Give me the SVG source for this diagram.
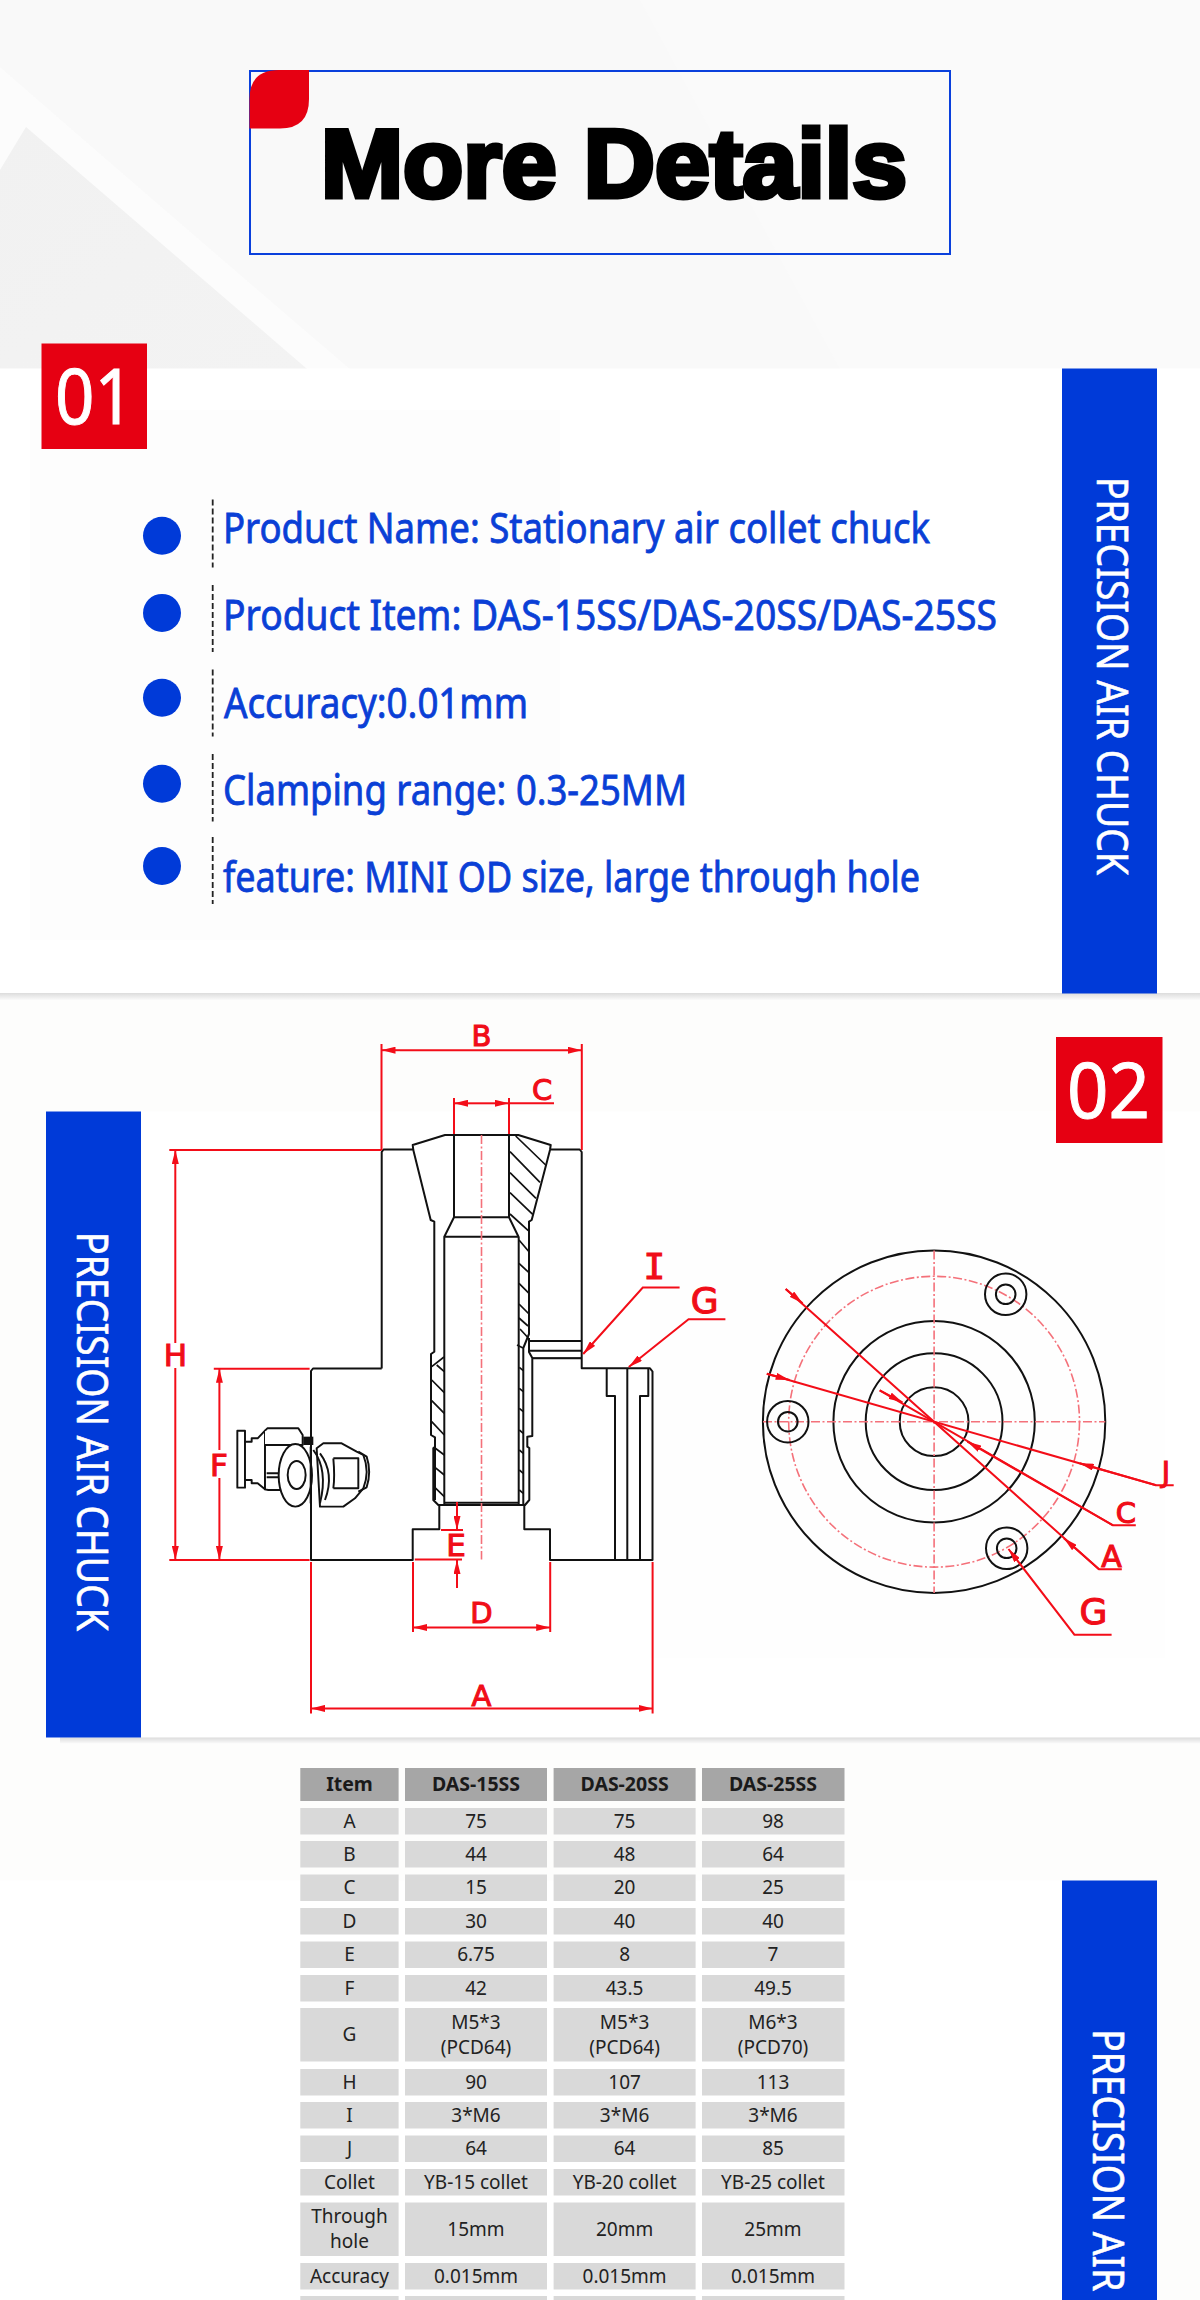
<svg xmlns="http://www.w3.org/2000/svg" width="1200" height="2300" viewBox="0 0 1200 2300">
<style>
.band{fill:#003ad8}
.bandtxt{font-family:"Noto Sans",sans-serif;font-size:44px;fill:#fff;stroke:#fff;stroke-width:.6}
.badge{fill:#e60012}
.badgetxt{font-family:"Noto Sans",sans-serif;font-size:76px;fill:#fff;stroke:#fff;stroke-width:1}
.li{font-family:"Noto Sans",sans-serif;font-size:41px;fill:#0a3fd6;stroke:#0a3fd6;stroke-width:.8}
.bullet{fill:#003ad8}
.dash{stroke:#222;stroke-width:1.8;stroke-dasharray:6 3;fill:none}
.k{fill:none;stroke:#111;stroke-width:2;stroke-linejoin:round}
.h{fill:none;stroke:#111;stroke-width:1.7}
.r{fill:none;stroke:#f30d18;stroke-width:2}
.cl{fill:none;stroke:#f4717a;stroke-width:1.6;stroke-dasharray:9 2.5 2 2.5}
.lab{font-family:"DejaVu Sans",sans-serif;fill:#f00d18;text-anchor:middle;stroke:#f00d18;stroke-width:1.1}
.hd{fill:#a6a6a6}
.rw{fill:#d9d9d9}
.t{font-family:"Noto Sans",sans-serif;font-size:19px;fill:#222;text-anchor:middle}
.th{font-family:"Noto Sans",sans-serif;font-size:19.5px;font-weight:700;fill:#1a1a1a;text-anchor:middle}
</style>
<defs>
<marker id="ar" markerUnits="userSpaceOnUse" markerWidth="14" markerHeight="7" refX="14" refY="3.5" orient="auto"><path d="M0 0L14 3.5L0 7Z" fill="#f30d18"/></marker>
<linearGradient id="sh" x1="0" y1="0" x2="0" y2="1"><stop offset="0" stop-color="#dcdcdc"/><stop offset="1" stop-color="#fafafa"/></linearGradient>
<linearGradient id="tri" x1="0" y1="0" x2="1" y2="1"><stop offset="0" stop-color="#f1f1f1"/><stop offset="1" stop-color="#f3f3f3"/></linearGradient>
</defs>

<g id="background">
<rect width="1200" height="2300" fill="#fdfdfc"/>
<rect width="1200" height="369" fill="#fafafa"/>
<path d="M0 67Q170 215 350 369H307L26 127L0 170V100Z" fill="#fcfcfc"/>
<path d="M26 127L307 369H0V170Z" fill="url(#tri)"/>
<path d="M0 0H640L840 369H1200V369H350Q170 215 0 67Z" fill="#f9f9f9"/>
<rect y="368.5" width="1200" height="625" fill="#fff"/>
<rect x="30" y="410" width="530" height="530" fill="#fdfdfd"/>
<rect y="993" width="1200" height="7" fill="url(#sh)"/>
<rect x="46" y="1111.5" width="1154" height="626" fill="#fff"/>
<rect x="650" y="1112" width="515" height="546" fill="#fefefe"/>
<rect x="60" y="1737.5" width="1140" height="6" fill="url(#sh)"/>
<rect y="1880.5" width="1062" height="420" fill="#fff"/>
</g>

<g id="title">
<rect x="250" y="71" width="700" height="183" fill="none" stroke="#0a40dc" stroke-width="2"/>
<path d="M249.5 128.5V99Q249.5 70 279 70H309V99Q309 128.5 280 128.5Z" class="badge"/>
<text x="321" y="197" font-family="'Liberation Sans',Arial,sans-serif" font-size="96" font-weight="700" fill="#000" stroke="#000" stroke-width="5" textLength="586" lengthAdjust="spacingAndGlyphs">More Details</text>
</g>

<g id="badge-01"><rect x="41.5" y="343.5" width="105.5" height="105.5" class="badge"/><text x="55" y="424" class="badgetxt" textLength="79" lengthAdjust="spacingAndGlyphs">01</text></g>

<g id="band-1"><rect x="1062" y="368.5" width="95" height="625" class="band"/><text transform="translate(1097 477) rotate(90)" class="bandtxt" textLength="398" lengthAdjust="spacingAndGlyphs">PRECISION AIR CHUCK</text></g>

<g id="spec-list">
<ellipse cx="162" cy="535.7" rx="19" ry="19" class="bullet"/>
<ellipse cx="162" cy="612.9" rx="19" ry="19" class="bullet"/>
<ellipse cx="162" cy="697.7" rx="19" ry="19" class="bullet"/>
<ellipse cx="162" cy="783.8" rx="19" ry="19" class="bullet"/>
<ellipse cx="162" cy="866" rx="19" ry="19" class="bullet"/>
<path class="dash" d="M212.7 499.5V567.5M212.7 585V652M212.7 669.5V736.5M212.7 754V821.5M212.7 837V904"/>
<text x="223" y="543" class="li" textLength="707" lengthAdjust="spacingAndGlyphs">Product Name: Stationary air collet chuck</text>
<text x="223" y="630" class="li" textLength="774" lengthAdjust="spacingAndGlyphs">Product Item: DAS-15SS/DAS-20SS/DAS-25SS</text>
<text x="224" y="717.5" class="li" textLength="304" lengthAdjust="spacingAndGlyphs">Accuracy:0.01mm</text>
<text x="223" y="805" class="li" textLength="464" lengthAdjust="spacingAndGlyphs">Clamping range: 0.3-25MM</text>
<text x="223" y="891.5" class="li" textLength="697" lengthAdjust="spacingAndGlyphs">feature: MINI OD size, large through hole</text>
</g>

<g id="badge-02"><rect x="1056" y="1037" width="106.5" height="106" class="badge"/><text x="1067" y="1118" class="badgetxt" textLength="83" lengthAdjust="spacingAndGlyphs">02</text></g>
<g id="band-2"><rect x="46" y="1111.5" width="95" height="626" class="band"/><text transform="translate(77 1232) rotate(90)" class="bandtxt" textLength="399" lengthAdjust="spacingAndGlyphs">PRECISION AIR CHUCK</text></g>

<g id="section-view">
<path class="k" d="M381.7 1368.5V1152L383.5 1149.5H413M550.7 1149.5H579.7L581.7 1152V1368.3H650L652.5 1371.5V1560H550V1529.3H524.3V1505M439.3 1505V1529.3H412.7V1560H311V1371L313 1368.5H381.7"/>
<path class="k" d="M413.3 1150L412.7 1145L445 1135H518.3L550.7 1145L550 1150L531.7 1220L529 1221.7V1334L523.3 1348V1505M413.3 1150L430.7 1220L434.3 1221.7V1351.7L431 1354V1435L435 1437.3V1446.7L433.3 1448.3V1500L438.3 1505H525L529.3 1500V1448L527.3 1446.7V1436.7L532.3 1436V1358L529 1352V1338"/>
<path class="k" d="M454 1135V1217.3H509V1135M454 1217.3L444.3 1236.7H518.5L509 1217.3M444.3 1236.7V1505M518.7 1236.7V1505M444.6 1502.7H518.7M435 1446.7V1500"/>
<path class="k" d="M529 1341H581.7M529 1350.7H581.7M532 1358.3H581.7M606.7 1368.3V1396H615V1560M627.3 1368.3V1560M648.3 1368.3V1396H640V1560"/>
<path d="M529 1341H581.7M532 1358.3H581.7" stroke="#111" stroke-width="1.6" fill="none"/>
<path class="h" d="M515.7 1136L545.7 1165M510 1151.7L540 1182.3M510 1172.7L536 1198.3M510 1192.7L532.7 1214.3M510 1214L528.3 1230.7M519 1240L529 1251.7M519 1263.3L529 1272.7M519 1283.3L529 1293.3M519 1304L529 1314M519 1318L528 1326M520 1329L528.3 1338M523 1348L517 1345"/>
<path class="h" d="M431.7 1366.7L444 1357M436.7 1365L444.3 1371.7M431.7 1380L444.3 1392.7M431.7 1400.7L444.3 1413.3M431.7 1421.7L444.3 1435M434 1447.3L444.3 1455M434 1466.7L444.3 1475M434 1486.7L444.3 1496.7"/>
<path class="h" d="M519.3 1367.3L523.3 1370.7M519.3 1388.3L523.3 1391.7M519.3 1408.3L523.3 1411.7M519.3 1430L523.3 1433.3M519.3 1450L523.3 1453.3M519.3 1470L523.3 1473.3M519.3 1490L523.3 1493.3"/>
<path class="cl" d="M481.5 1135V1559.6"/>
</g>

<g id="fitting" transform="translate(220 1400) scale(.3333)" fill="#fff" stroke="#111" stroke-width="5.8" stroke-linejoin="round">
<path d="M290 145L310 130H365L410 155L430 165Q450 215 430 265L405 295L370 320H300Z"/>
<path d="M280 150Q325 210 300 310M300 160Q345 220 315 300M340 175H415V265H340M340 175Q345 230 340 265M415 155L440 170Q455 215 440 262L415 275" fill="none"/>
<rect x="52" y="92" width="23" height="171"/>
<path d="M75 125H95V115H113L135 92V268L113 250H95V240H75Z"/>
<path d="M135 92L142 85H235L248 105V135H135M135 135V268L145 270H215"/>
<path d="M140 220H178M140 232H178" fill="none"/>
<rect x="250" y="110" width="30" height="25" fill="#111" stroke="none"/>
<ellipse cx="226" cy="226" rx="50" ry="94"/>
<ellipse cx="230" cy="225" rx="27" ry="42" fill="none"/>
<path d="M272 140V310" fill="none"/>
</g>

<g id="front-view">
<circle cx="934.1" cy="1421.7" r="171.2" class="k"/>
<circle cx="934.1" cy="1421.7" r="100.7" class="k"/>
<circle cx="934.1" cy="1421.7" r="68.4" class="k"/>
<circle cx="934.1" cy="1421.7" r="34.4" class="k"/>
<circle cx="934.1" cy="1421.7" r="145.4" class="cl"/>
<path class="cl" d="M763 1421.7H1105.3M934.1 1250.5V1592.9"/>
<circle cx="1005.7" cy="1294.3" r="20.7" class="k"/><circle cx="1005.7" cy="1294.3" r="9.8" class="k"/>
<circle cx="787.8" cy="1421.7" r="20.7" class="k"/><circle cx="787.8" cy="1421.7" r="9.8" class="k"/>
<circle cx="1006.7" cy="1548.3" r="20.7" class="k"/><circle cx="1006.7" cy="1548.3" r="9.8" class="k"/>
</g>

<g id="connectors">
<g id="dim-B"><path class="r" d="M381.5 1044V1150M581.8 1044V1150"/><path class="r" d="M400 1050.2H381.5" marker-end="url(#ar)"/><path class="r" d="M400 1050.2H581.8" marker-end="url(#ar)"/></g>
<g id="dim-C"><path class="r" d="M454 1098V1134M509 1098V1134M509 1103.3H554"/><path class="r" d="M482 1103.3H454" marker-end="url(#ar)"/><path class="r" d="M482 1103.3H509" marker-end="url(#ar)"/></g>
<g id="dim-H"><path class="r" d="M169.3 1150H381.5M169.3 1560H309.6"/><path class="r" d="M175.3 1343V1150" marker-end="url(#ar)"/><path class="r" d="M175.3 1368V1560" marker-end="url(#ar)"/></g>
<g id="dim-F"><path class="r" d="M213.8 1368.8H309.6"/><path class="r" d="M219.4 1450V1368.8" marker-end="url(#ar)"/><path class="r" d="M219.4 1478V1560" marker-end="url(#ar)"/></g>
<g id="dim-D"><path class="r" d="M413 1562V1632M550.2 1562V1632"/><path class="r" d="M480 1627.5H413" marker-end="url(#ar)"/><path class="r" d="M480 1627.5H550.2" marker-end="url(#ar)"/></g>
<g id="dim-A"><path class="r" d="M311 1562V1713.6M652.6 1562V1713.6"/><path class="r" d="M480 1708.4H311" marker-end="url(#ar)"/><path class="r" d="M480 1708.4H652.6" marker-end="url(#ar)"/></g>
<g id="dim-E"><path class="r" d="M441 1530H463M414.8 1559.6H462"/><path class="r" d="M457 1502V1530" marker-end="url(#ar)"/><path class="r" d="M457 1588V1560" marker-end="url(#ar)"/></g>
<g id="leader-I"><path class="r" d="M679.6 1287.5H642.8L583.2 1354" marker-end="url(#ar)"/></g>
<g id="leader-G1"><path class="r" d="M725.4 1319.3H688.6L628.8 1367" marker-end="url(#ar)"/></g>
<g id="radial-A"><path class="r" d="M785.7 1289L1099 1569.3H1121.8"/><path class="r" d="M785.7 1289L802.6 1303.3" marker-end="url(#ar)"/><path class="r" d="M1099 1569.3L1063.9 1538.3" marker-end="url(#ar)"/></g>
<g id="radial-C"><path class="r" d="M879.7 1390.3L1113 1525.3H1135.8"/><path class="r" d="M879.7 1390.3L902.5 1402.3" marker-end="url(#ar)"/><path class="r" d="M1113 1525.3L967.4 1441.7" marker-end="url(#ar)"/></g>
<g id="radial-J"><path class="r" d="M766.8 1373.7L1156.1 1485.3H1173.7"/><path class="r" d="M766.8 1373.7L789.6 1380" marker-end="url(#ar)"/><path class="r" d="M1156.1 1485.3L1079.7 1463.3" marker-end="url(#ar)"/></g>
<g id="leader-G2"><path class="r" d="M1111.6 1634.7H1074.4L1008.5 1549" marker-end="url(#ar)"/></g>
</g>

<g id="labels">
<text x="481.5" y="1046" class="lab" font-size="29">B</text>
<text x="542" y="1099.5" class="lab" font-size="29">C</text>
<text x="654.3" y="1279" class="lab" font-size="36" style="font-family:'DejaVu Sans Mono',monospace">I</text>
<text x="704.7" y="1312.7" class="lab" font-size="36">G</text>
<text x="175.5" y="1366" class="lab" font-size="31">H</text>
<text x="219" y="1476" class="lab" font-size="31">F</text>
<text x="456" y="1556" class="lab" font-size="31">E</text>
<text x="481.5" y="1623" class="lab" font-size="29">D</text>
<text x="481.5" y="1705.5" class="lab" font-size="29">A</text>
<text x="1166" y="1481.7" class="lab" font-size="28">J</text>
<text x="1125.8" y="1522.7" class="lab" font-size="29">C</text>
<text x="1111.4" y="1566.7" class="lab" font-size="30">A</text>
<text x="1093.5" y="1624" class="lab" font-size="36">G</text>
</g>

<g id="spec-table">
<g id="row-head"><rect x="300.3" y="1768" width="98.3" height="33" class="hd"/><rect x="405" y="1768" width="142" height="33" class="hd"/><rect x="553.6" y="1768" width="142" height="33" class="hd"/><rect x="702" y="1768" width="142.5" height="33" class="hd"/>
<text x="349.5" y="1791" class="th">Item</text><text x="476" y="1791" class="th">DAS-15SS</text><text x="624.6" y="1791" class="th">DAS-20SS</text><text x="773" y="1791" class="th">DAS-25SS</text></g>
<g id="row-a"><rect x="300.3" y="1808" width="98.3" height="26.5" class="rw"/><rect x="405" y="1808" width="142" height="26.5" class="rw"/><rect x="553.6" y="1808" width="142" height="26.5" class="rw"/><rect x="702" y="1808" width="142.5" height="26.5" class="rw"/>
<text x="349.5" y="1827.5" class="t">A</text><text x="476" y="1827.5" class="t">75</text><text x="624.6" y="1827.5" class="t">75</text><text x="773" y="1827.5" class="t">98</text></g>
<g id="row-b"><rect x="300.3" y="1841" width="98.3" height="26.5" class="rw"/><rect x="405" y="1841" width="142" height="26.5" class="rw"/><rect x="553.6" y="1841" width="142" height="26.5" class="rw"/><rect x="702" y="1841" width="142.5" height="26.5" class="rw"/>
<text x="349.5" y="1860.8" class="t">B</text><text x="476" y="1860.8" class="t">44</text><text x="624.6" y="1860.8" class="t">48</text><text x="773" y="1860.8" class="t">64</text></g>
<g id="row-c"><rect x="300.3" y="1874.5" width="98.3" height="26.5" class="rw"/><rect x="405" y="1874.5" width="142" height="26.5" class="rw"/><rect x="553.6" y="1874.5" width="142" height="26.5" class="rw"/><rect x="702" y="1874.5" width="142.5" height="26.5" class="rw"/>
<text x="349.5" y="1894" class="t">C</text><text x="476" y="1894" class="t">15</text><text x="624.6" y="1894" class="t">20</text><text x="773" y="1894" class="t">25</text></g>
<g id="row-d"><rect x="300.3" y="1908" width="98.3" height="26.5" class="rw"/><rect x="405" y="1908" width="142" height="26.5" class="rw"/><rect x="553.6" y="1908" width="142" height="26.5" class="rw"/><rect x="702" y="1908" width="142.5" height="26.5" class="rw"/>
<text x="349.5" y="1927.5" class="t">D</text><text x="476" y="1927.5" class="t">30</text><text x="624.6" y="1927.5" class="t">40</text><text x="773" y="1927.5" class="t">40</text></g>
<g id="row-e"><rect x="300.3" y="1941.5" width="98.3" height="26.5" class="rw"/><rect x="405" y="1941.5" width="142" height="26.5" class="rw"/><rect x="553.6" y="1941.5" width="142" height="26.5" class="rw"/><rect x="702" y="1941.5" width="142.5" height="26.5" class="rw"/>
<text x="349.5" y="1961" class="t">E</text><text x="476" y="1961" class="t">6.75</text><text x="624.6" y="1961" class="t">8</text><text x="773" y="1961" class="t">7</text></g>
<g id="row-f"><rect x="300.3" y="1975" width="98.3" height="26.5" class="rw"/><rect x="405" y="1975" width="142" height="26.5" class="rw"/><rect x="553.6" y="1975" width="142" height="26.5" class="rw"/><rect x="702" y="1975" width="142.5" height="26.5" class="rw"/>
<text x="349.5" y="1994.5" class="t">F</text><text x="476" y="1994.5" class="t">42</text><text x="624.6" y="1994.5" class="t">43.5</text><text x="773" y="1994.5" class="t">49.5</text></g>
<g id="row-g"><rect x="300.3" y="2008" width="98.3" height="53.5" class="rw"/><rect x="405" y="2008" width="142" height="53.5" class="rw"/><rect x="553.6" y="2008" width="142" height="53.5" class="rw"/><rect x="702" y="2008" width="142.5" height="53.5" class="rw"/>
<text x="349.5" y="2041" class="t">G</text><text x="476" y="2028.8" class="t">M5*3</text><text x="476" y="2054" class="t">(PCD64)</text><text x="624.6" y="2028.8" class="t">M5*3</text><text x="624.6" y="2054" class="t">(PCD64)</text><text x="773" y="2028.8" class="t">M6*3</text><text x="773" y="2054" class="t">(PCD70)</text></g>
<g id="row-h"><rect x="300.3" y="2069" width="98.3" height="26.5" class="rw"/><rect x="405" y="2069" width="142" height="26.5" class="rw"/><rect x="553.6" y="2069" width="142" height="26.5" class="rw"/><rect x="702" y="2069" width="142.5" height="26.5" class="rw"/>
<text x="349.5" y="2088.5" class="t">H</text><text x="476" y="2088.5" class="t">90</text><text x="624.6" y="2088.5" class="t">107</text><text x="773" y="2088.5" class="t">113</text></g>
<g id="row-i"><rect x="300.3" y="2102" width="98.3" height="26.5" class="rw"/><rect x="405" y="2102" width="142" height="26.5" class="rw"/><rect x="553.6" y="2102" width="142" height="26.5" class="rw"/><rect x="702" y="2102" width="142.5" height="26.5" class="rw"/>
<text x="349.5" y="2122" class="t">I</text><text x="476" y="2122" class="t">3*M6</text><text x="624.6" y="2122" class="t">3*M6</text><text x="773" y="2122" class="t">3*M6</text></g>
<g id="row-j"><rect x="300.3" y="2135.5" width="98.3" height="26.5" class="rw"/><rect x="405" y="2135.5" width="142" height="26.5" class="rw"/><rect x="553.6" y="2135.5" width="142" height="26.5" class="rw"/><rect x="702" y="2135.5" width="142.5" height="26.5" class="rw"/>
<text x="349.5" y="2155" class="t">J</text><text x="476" y="2155" class="t">64</text><text x="624.6" y="2155" class="t">64</text><text x="773" y="2155" class="t">85</text></g>
<g id="row-collet"><rect x="300.3" y="2169" width="98.3" height="26.5" class="rw"/><rect x="405" y="2169" width="142" height="26.5" class="rw"/><rect x="553.6" y="2169" width="142" height="26.5" class="rw"/><rect x="702" y="2169" width="142.5" height="26.5" class="rw"/>
<text x="349.5" y="2188.5" class="t">Collet</text><text x="476" y="2188.5" class="t">YB-15 collet</text><text x="624.6" y="2188.5" class="t">YB-20 collet</text><text x="773" y="2188.5" class="t">YB-25 collet</text></g>
<g id="row-through"><rect x="300.3" y="2202.5" width="98.3" height="53.5" class="rw"/><rect x="405" y="2202.5" width="142" height="53.5" class="rw"/><rect x="553.6" y="2202.5" width="142" height="53.5" class="rw"/><rect x="702" y="2202.5" width="142.5" height="53.5" class="rw"/>
<text x="349.5" y="2222.8" class="t">Through</text><text x="349.5" y="2248" class="t">hole</text><text x="476" y="2235.5" class="t">15mm</text><text x="624.6" y="2235.5" class="t">20mm</text><text x="773" y="2235.5" class="t">25mm</text></g>
<g id="row-accuracy"><rect x="300.3" y="2263" width="98.3" height="26.5" class="rw"/><rect x="405" y="2263" width="142" height="26.5" class="rw"/><rect x="553.6" y="2263" width="142" height="26.5" class="rw"/><rect x="702" y="2263" width="142.5" height="26.5" class="rw"/>
<text x="349.5" y="2282.5" class="t">Accuracy</text><text x="476" y="2282.5" class="t">0.015mm</text><text x="624.6" y="2282.5" class="t">0.015mm</text><text x="773" y="2282.5" class="t">0.015mm</text></g>
<g id="row-next"><rect x="300.3" y="2296" width="98.3" height="4" class="rw"/><rect x="405" y="2296" width="142" height="4" class="rw"/><rect x="553.6" y="2296" width="142" height="4" class="rw"/><rect x="702" y="2296" width="142.5" height="4" class="rw"/></g>
</g>

<g id="band-3"><rect x="1062" y="1880.5" width="95" height="420" class="band"/><text transform="translate(1093 2029.3) rotate(90)" class="bandtxt" textLength="262" lengthAdjust="spacingAndGlyphs">PRECISION AIR</text></g>
</svg>
